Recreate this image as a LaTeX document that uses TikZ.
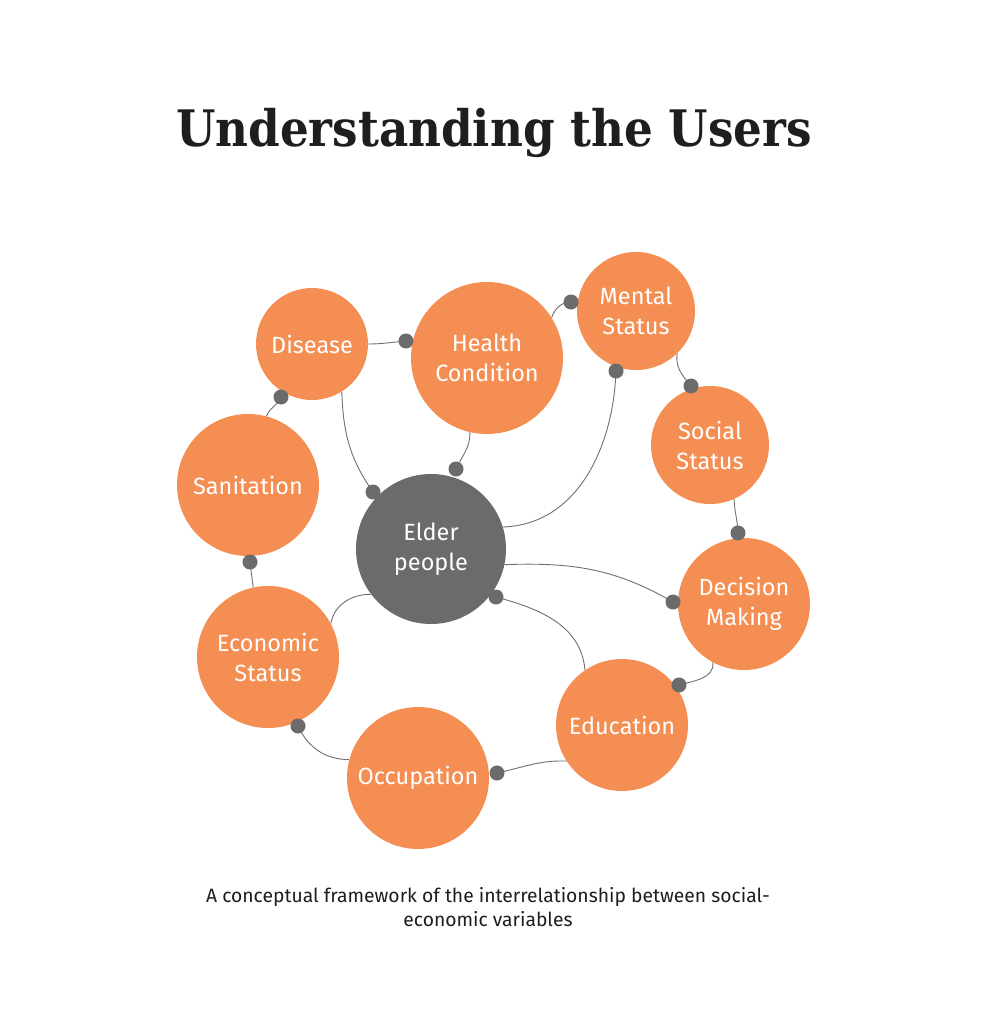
\documentclass[tikz,border=0pt]{standalone}
\usepackage{fontspec}
\setmainfont{Fira Sans}
\newfontfamily\titlefont{DejaVu Serif Condensed}
\definecolor{orng}{HTML}{F58E52}
\definecolor{grayc}{HTML}{6B6B6B}
\definecolor{linec}{HTML}{707070}
\definecolor{txt}{HTML}{1E1E1E}
\pgfdeclarelayer{background}
\pgfsetlayers{background,main}
\begin{document}
\begin{tikzpicture}[x=1pt,y=-1pt,
  bubble/.style={circle,fill=orng,text=white,inner sep=0pt,align=center,
    font=\fontsize{23.5}{30}\selectfont,minimum size=#1},
  hub/.style={circle,fill=grayc,text=white,inner sep=0pt,align=center,
    font=\fontsize{23.5}{30}\selectfont,minimum size=#1},
  knob/.style={circle,fill=grayc,inner sep=0pt,minimum size=15pt},
  link/.style={draw=linec,line width=0.9pt}]
\useasboundingbox (0,0) rectangle (988,1014);
\begin{pgfonlayer}{background}
\fill[white] (0,0) rectangle (988,1014);
\end{pgfonlayer}
% title
\node[text=txt,font=\titlefont\bfseries\fontsize{50.3}{60}\selectfont] (title) at (494,133) {Understanding the Users};
% circles
\node[bubble=112pt] (dis) at (312,344) {Disease};
\node[bubble=152pt] (hc) at (487,358) {Health\\Condition};
\node[bubble=118pt] (ms) at (636,311) {Mental\\Status};
\node[bubble=118pt] (ss) at (710,445) {Social\\Status};
\node[bubble=132pt] (dm) at (744,604) {Decision\\Making};
\node[bubble=132pt] (edu) at (622,725) {Education};
\node[bubble=142pt] (occ) at (418,778) {Occupation};
\node[bubble=142pt] (eco) at (268,657) {Economic\\Status};
\node[bubble=142pt] (san) at (248,485) {Sanitation};
\node[hub=150pt] (eld) at (431,549) {Elder\\people};
% knobs
\node[knob] (k1) at (406,341) {};
\node[knob] (k2) at (281,397) {};
\node[knob] (k3) at (373,492) {};
\node[knob] (k4) at (456,469) {};
\node[knob] (k5) at (571,302) {};
\node[knob] (k6) at (616,371) {};
\node[knob] (k7) at (691,386) {};
\node[knob] (k8) at (738,533) {};
\node[knob] (k9) at (673,602) {};
\node[knob] (k10) at (679,685) {};
\node[knob] (k11) at (496,597) {};
\node[knob] (k12) at (497,773) {};
\node[knob] (k13) at (298,726) {};
\node[knob] (k14) at (250,562) {};
% links (behind)
\begin{pgfonlayer}{background}
\draw[link] (dis.0) to[out=0,in=185] (k1.center);
\draw[link] (san.75) to[out=70,in=-110] (k2.center);
\draw[link] (dis.-58) to[out=-88,in=125] (k3.center);
\draw[link] (hc.-103) to[out=-88,in=65] (k4.center);
\draw[link] (hc.32) to[out=70,in=180] (k5.center);
\draw[link] (eld.17) to[out=2,in=-92] (k6.center);
\draw[link] (ms.-46) to[out=-98,in=130] (k7.center);
\draw[link] (ss.-66) to[out=-88,in=92] (k8.center);
\draw[link] (eld.-12) to[out=2,in=150] (k9.center);
\draw[link] (dm.-118) to[out=-85,in=15] (k10.center);
\draw[link] (edu.124) to[out=95,in=-15] (k11.center);
\draw[link] (edu.213) to[out=178,in=12] (k12.center);
\draw[link] (occ.165) to[out=180,in=-65] (k13.center);
\draw[link] (k14.center) -- (eco.102);
\draw[link] (eco.28) to[out=80,in=180] (eld.217);
\end{pgfonlayer}
% caption
\node[text=txt,align=center,font=\fontsize{19.3}{24}\selectfont] (cap) at (488,907) {A conceptual framework of the interrelationship between social-\\economic variables};
\end{tikzpicture}
\end{document}
